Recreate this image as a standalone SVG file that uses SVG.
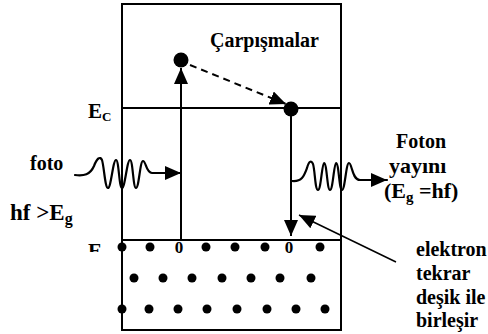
<svg xmlns="http://www.w3.org/2000/svg" width="488" height="334" viewBox="0 0 488 334">
<defs>
<marker id="ah" viewBox="0 0 16 14" refX="16" refY="7" markerWidth="16" markerHeight="14" markerUnits="userSpaceOnUse" orient="auto">
<path d="M0,0 L16,7 L0,14 z" fill="#000"/>
</marker>
<clipPath id="cl"><rect x="0" y="0" width="120" height="252"/></clipPath>
</defs>
<g id="band" stroke="#000" stroke-width="2" fill="none">
<rect x="122" y="4" width="219" height="326"/>
<line x1="122" y1="108" x2="341" y2="108"/>
<line x1="122" y1="240" x2="341" y2="240"/>
</g>
<g id="labels" font-family="Liberation Serif" font-weight="bold" font-size="20" fill="#000">
<text x="88" y="118" font-size="21">E<tspan font-size="13" dy="3">C</tspan></text>
<text x="88" y="258" font-size="21" clip-path="url(#cl)">E</text>
<text x="210" y="47">Çarpışmalar</text>
<text x="30" y="170">foto</text>
<text x="10" y="220" font-size="23">hf &gt;E<tspan font-size="16" dy="4">g</tspan></text>
<text x="396" y="148">Foton</text>
<text x="389" y="173" font-size="22">yayını</text>
<text x="384" y="198" font-size="22">(E<tspan font-size="15" dy="4">g</tspan><tspan dy="-4"> =hf)</tspan></text>
<text x="416" y="256">elektron</text>
<text x="416" y="280">tekrar</text>
<text x="416" y="304">deşik ile</text>
<text x="416" y="327">birleşir</text>
</g>
<g id="electron-top"><circle cx="181" cy="60" r="7.5" fill="#000"/></g>
<g id="electron-bottom"><circle cx="291" cy="109" r="7.5" fill="#000"/></g>
<g id="holes-electrons" fill="#000">
<circle cx="122" cy="247" r="4.5"/><circle cx="150" cy="247" r="4.5"/>
<text x="179" y="253" font-family="Liberation Serif" font-weight="bold" font-size="17" text-anchor="middle">0</text>
<circle cx="206" cy="247" r="4.5"/><circle cx="235" cy="247" r="4.5"/>
<circle cx="265" cy="247" r="4.5"/>
<text x="289" y="253" font-family="Liberation Serif" font-weight="bold" font-size="17" text-anchor="middle">0</text>
<circle cx="320" cy="247" r="4.5"/>
<circle cx="134" cy="278" r="4.5"/><circle cx="163" cy="278" r="4.5"/>
<circle cx="192" cy="278" r="4.5"/><circle cx="222" cy="278" r="4.5"/>
<circle cx="251" cy="278" r="4.5"/><circle cx="280" cy="278" r="4.5"/>
<circle cx="311" cy="278" r="4.5"/>
<circle cx="122" cy="309" r="4.5"/><circle cx="149" cy="309" r="4.5"/>
<circle cx="178" cy="309" r="4.5"/><circle cx="207" cy="309" r="4.5"/>
<circle cx="237" cy="309" r="4.5"/><circle cx="267" cy="309" r="4.5"/>
<circle cx="296" cy="309" r="4.5"/><circle cx="325" cy="309" r="4.5"/>
</g>
<g id="connectors" stroke="#000" fill="none" stroke-width="2">
<line x1="181" y1="240" x2="181" y2="68" marker-end="url(#ah)"/>
<line x1="190" y1="65" x2="286" y2="104" stroke-dasharray="7,5" marker-end="url(#ah)"/>
<line x1="291" y1="109" x2="291" y2="236" marker-end="url(#ah)"/>
<line x1="396" y1="262" x2="299" y2="215" stroke-width="1.5" marker-end="url(#ah)"/>
<path stroke-width="2.2" stroke-linejoin="round" stroke-linecap="round" d="M75,175 C84,176 90,175 94,166 C97,158 100,156 102,160 C104,166 105,188 108,188 C111,188 113,160 116,160 C119,160 119,188 122,188 C125,188 127,160 130,160 C133,160 133,188 136,188 C139,188 140,161 143,161 C146,161 146,173 152,173 L181,173" marker-end="url(#ah)"/>
<path stroke-width="2.2" stroke-linejoin="round" stroke-linecap="round" d="M292,181 C302,182 304,176 307,168 C309,161 311,160 313,164 C315,170 315,190 318,190 C321,190 322,163 324,163 C327,163 327,190 330,190 C333,190 334,163 336,163 C339,163 339,190 342,190 C345,190 346,163 349,163 C352,163 352,180 360,180 L387,180" marker-end="url(#ah)"/>
</g>
</svg>
